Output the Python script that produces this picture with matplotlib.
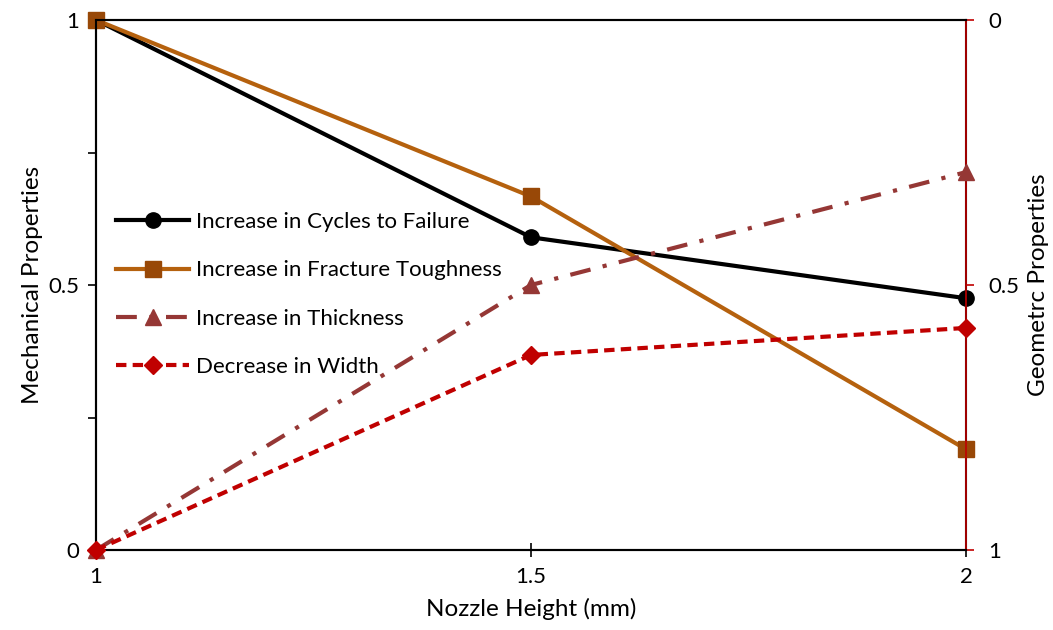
import matplotlib
matplotlib.use("Agg")
import matplotlib.pyplot as plt
from matplotlib.ticker import MultipleLocator

plt.rcParams['font.family'] = ['Lato', 'DejaVu Sans']

x = [1, 1.5, 2]
cycles = [1.0, 0.59, 0.475]
toughness = [1.0, 0.667, 0.19]
thickness = [1.0, 0.5, 0.287]
width = [1.0, 0.632, 0.581]

fig = plt.figure(figsize=(10.53, 6.3), dpi=100)
ax = fig.add_axes([96/1053, 1-550/630, (966-96)/1053, 530/630])
ax2 = ax.twinx()

l1, = ax.plot(x, cycles, color='black', lw=3, marker='o', ms=11, label='Increase in Cycles to Failure', clip_on=False, zorder=5)
l2, = ax.plot(x, toughness, color='#B5610E', lw=3, marker='s', ms=11, mfc='#984807', mec='#984807', label='Increase in Fracture Toughness', clip_on=False, zorder=5)
l3, = ax2.plot(x, thickness, color='#953735', lw=3, ls=(0, (5, 3, 1, 3)), marker='^', ms=11, label='Increase in Thickness', clip_on=False, zorder=4)
l4, = ax2.plot(x, width, color='#C00000', lw=3, ls=(0, (2.5, 1.5)), marker='D', ms=9, label='Decrease in Width', clip_on=False, zorder=4)

ax.set_xlim(1, 2)
ax.set_ylim(0, 1)
ax2.set_ylim(1, 0)

ax.set_xticks([1, 1.5, 2])
ax.set_xticklabels(['1', '1.5', '2'])
ax.set_yticks([0, 0.5, 1])
ax.set_yticklabels(['0', '0.5', '1'])
ax.yaxis.set_minor_locator(MultipleLocator(0.25))
ax2.set_yticks([0, 0.5, 1])
ax2.set_yticklabels(['0', '0.5', '1'])

for a in (ax, ax2):
    for s in a.spines.values():
        s.set_linewidth(1.5)
ax2.spines['right'].set_color('#C00000')
ax2.spines['right'].set_linewidth(1.2)

ax.tick_params(axis='x', direction='inout', length=10, width=1.2, labelsize=16, pad=7)
ax.tick_params(axis='y', which='major', direction='out', length=6, width=1.2, labelsize=16, pad=6)
ax.tick_params(axis='y', which='minor', direction='out', length=6, width=1.2)
ax2.tick_params(axis='y', direction='out', length=6, width=1.2, color='#C00000', labelsize=16, pad=10)

ax.set_xlabel('Nozzle Height (mm)', fontsize=17.5, labelpad=8)
ax.set_ylabel('Mechanical Properties', fontsize=17.5, labelpad=4)
ax2.set_ylabel('Geometrc Properties', fontsize=17.5, labelpad=6)

leg = ax.legend(handles=[l1, l2, l3, l4], loc='upper left', bbox_to_anchor=(0.0, 0.675),
                frameon=False, fontsize=16, handlelength=3.3, labelspacing=1.27, handletextpad=0.3,
                borderaxespad=0.5)

fig.savefig('out.png', dpi=100)
